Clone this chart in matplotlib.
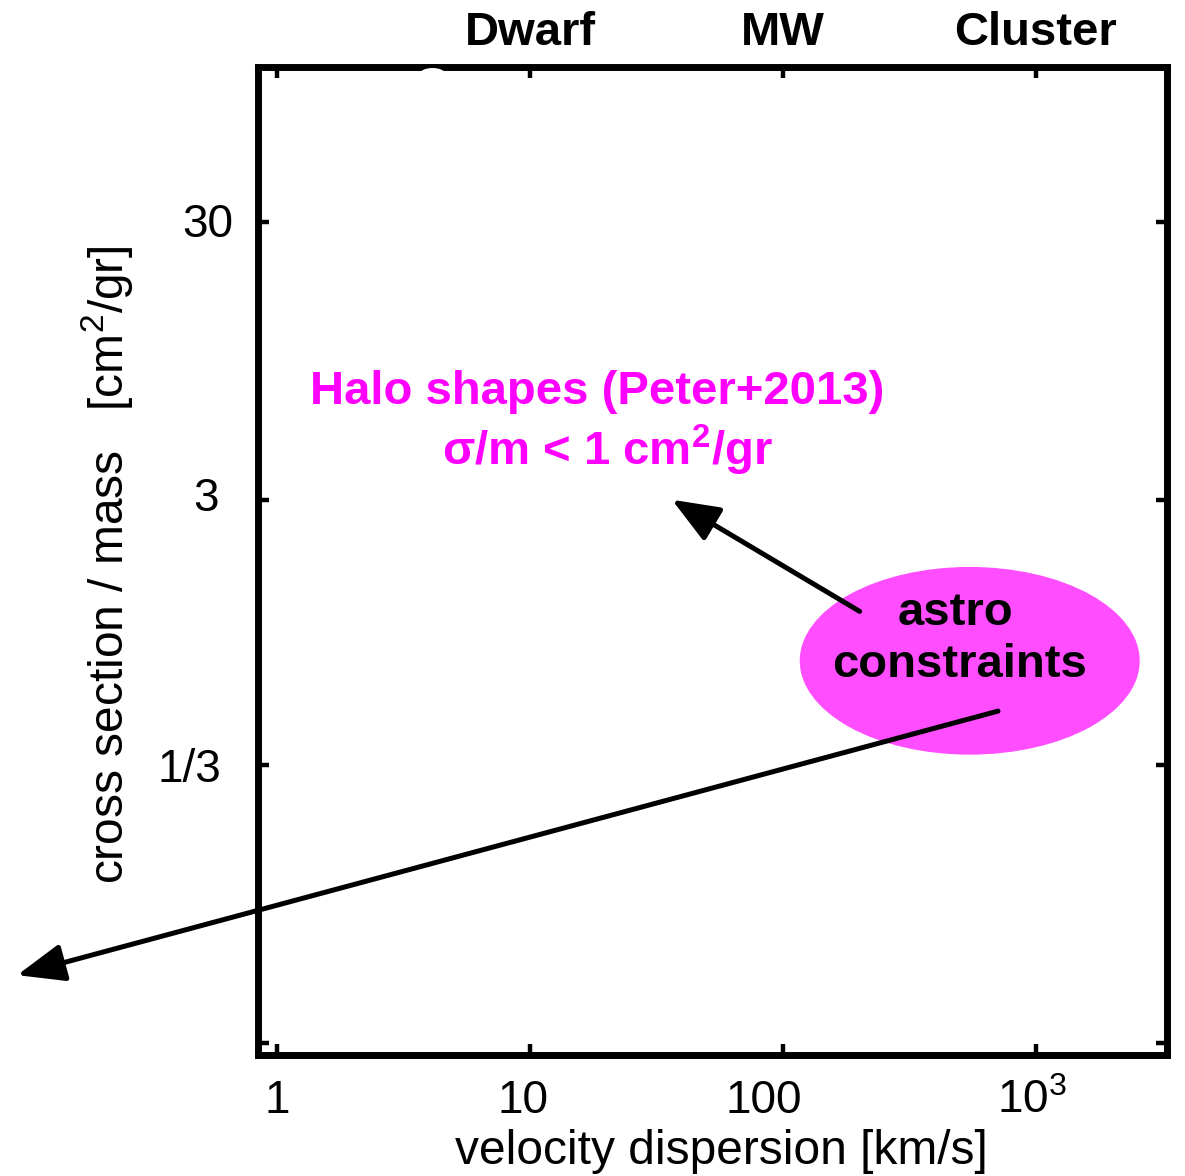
import matplotlib.pyplot as plt
from matplotlib.patches import Ellipse
from matplotlib.ticker import NullLocator
from matplotlib.transforms import blended_transform_factory, ScaledTranslation

plt.rcParams['font.family'] = ['Liberation Sans', 'DejaVu Sans']
plt.rcParams['mathtext.fontset'] = 'custom'
plt.rcParams['mathtext.rm'] = 'Liberation Sans'
plt.rcParams['mathtext.it'] = 'Liberation Sans'
plt.rcParams['mathtext.bf'] = 'Liberation Sans:bold'

# axis ticks
vel_ticks = [1, 10, 100, 1000]
vel_labels = ['1', '10', '100', r'$\mathregular{10^3}$']
xs_ticks = [30, 3, 1 / 3, 1 / 30]
xs_labels = ['30', '3', '1/3', '']

# halo classes along the top
halo_names = ['Dwarf', 'MW', 'Cluster']
halo_vel = [10, 100, 1000]

# pointer arrows: (velocity [km/s], sigma/m [cm2/gr]) for tail and head
shape_tail, shape_head = (201, 1.19), (36.4, 3.0)
astro_tail, astro_head = (708, 0.521), (0.094, 0.0585)

MAGENTA = '#ff00ff'
BLOB = '#ff4dff'

fig = plt.figure(figsize=(11.85, 11.76), dpi=100)
ax = fig.add_axes([0.2177, 0.1029, 0.7671, 0.8401])
ax.set_xscale('log')
ax.set_yscale('log')
ax.set_xlim(0.841, 3296)
ax.set_ylim(0.0302, 108)

ax.set_xticks(vel_ticks, vel_labels)
ax.set_yticks(xs_ticks, xs_labels)
ax.xaxis.set_minor_locator(NullLocator())
ax.yaxis.set_minor_locator(NullLocator())
ax.tick_params(direction='in', length=8, width=3.2, top=True, right=True,
               labelsize=33, color='black')
ax.tick_params(axis='x', pad=17)
ax.tick_params(axis='y', pad=18)
for sp in ax.spines.values():
    sp.set_linewidth(5)

# nudge tick labels a little, the way they sit on the slide
px = 1.0 / fig.dpi
for lab, dx in zip(ax.get_xticklabels(), [0, -7, -19, -4]):
    lab.set_transform(lab.get_transform() + ScaledTranslation(dx * px, 0, fig.dpi_scale_trans))
for lab, (dx, dy) in zip(ax.get_yticklabels(), [(0, 2), (-14, 6), (-12, 0), (0, 0)]):
    lab.set_transform(lab.get_transform() + ScaledTranslation(dx * px, dy * px, fig.dpi_scale_trans))

ax.set_xlabel('velocity dispersion [km/s]', fontsize=34.5)
ax.xaxis.label.set_va('center')
ax.xaxis.set_label_coords(0.510, -0.098)
ax.set_ylabel(r'cross section / mass   [cm$^2$/gr]', fontsize=34.5)
ax.yaxis.label.set_va('center')
ax.yaxis.set_label_coords(-0.166, 0.496)

# halo class names above the frame
top = blended_transform_factory(ax.transData, ax.transAxes)
for name, v in zip(halo_names, halo_vel):
    ax.text(v, 1.034, name, transform=top, ha='center', va='center',
            fontsize=34, fontweight='bold', clip_on=False)

# halo shape constraint
ax.text(0.373, 0.671, 'Halo shapes (Peter+2013)', transform=ax.transAxes,
        ha='center', va='center', fontsize=34, fontweight='bold', color=MAGENTA)
ax.text(0.384, 0.612, r'σ/m < 1 cm$\mathbf{^2}$/gr', transform=ax.transAxes,
        ha='center', va='center', fontsize=34, fontweight='bold', color=MAGENTA)

# astro constraints bubble
ax.add_patch(Ellipse((0.783, 0.399), 0.374, 0.190, transform=ax.transAxes,
                     facecolor=BLOB, edgecolor='none', zorder=2, clip_on=False))
ax.text(0.767, 0.447, 'astro', transform=ax.transAxes, ha='center', va='center',
        fontsize=34, fontweight='bold', zorder=4)
ax.text(0.772, 0.395, 'constraints', transform=ax.transAxes, ha='center',
        va='center', fontsize=34, fontweight='bold', zorder=4)

arrow_style = dict(arrowstyle='-|>,head_length=1.45,head_width=0.58',
                   mutation_scale=20, color='black', lw=3.6,
                   shrinkA=0, shrinkB=0)
ax.annotate('', xy=shape_head, xytext=shape_tail, arrowprops=arrow_style,
            annotation_clip=False, zorder=3)
ax.annotate('', xy=astro_head, xytext=astro_tail, arrowprops=arrow_style,
            annotation_clip=False, zorder=3)

# small white nick on the upper frame
ax.add_patch(Ellipse((0.192, 0.993), 0.028, 0.012, transform=ax.transAxes,
                     facecolor='white', edgecolor='none', zorder=5, clip_on=False))

fig.savefig('out.png', dpi=100)
